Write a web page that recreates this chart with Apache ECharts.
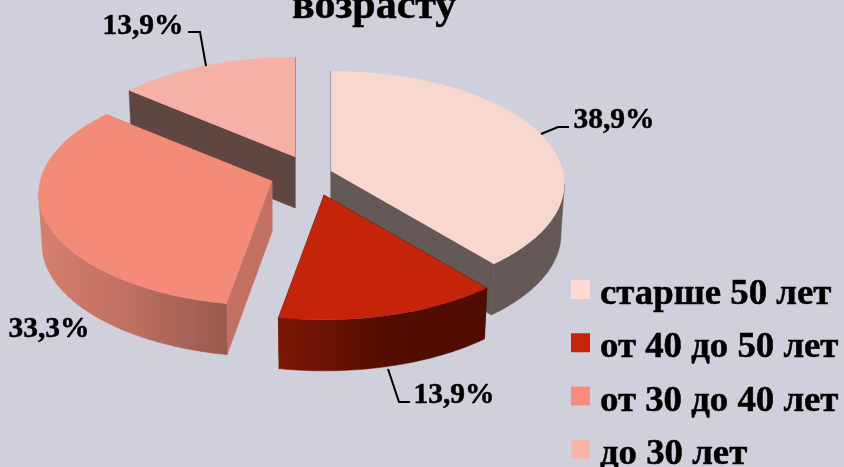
<!DOCTYPE html>
<html>
<head>
<meta charset="utf-8">
<style>
  html, body { margin: 0; padding: 0; background: #cfd0db; overflow: hidden; }
  #chart { width: 844px; height: 467px; }
</style>
<script src="https://cdn.jsdelivr.net/npm/echarts@6/dist/echarts.min.js"></script>
</head>
<body>
<div id="chart"></div>
<script>
const categories = ["старше 50 лет", "от 40 до 50 лет", "от 30 до 40 лет", "до 30 лет"];
const shares = [38.9, 13.9, 33.3, 13.9];

const FONT = '"Liberation Serif", "Times New Roman", serif';
const RX = 232, RY = 111, PERSP = 0.111, DEPTH = 51, BOTTOM_X = 0.985;

// look of each slice, in the same order as categories
const slices = [
  { apex: [331, 171], top: "#f8d7cf", key: "#fcd9d1", wall: "#655957", side: ["#655957", "#655957"], z: 2,
    label: [614, 120], leader: [[541, 134], [558, 127], [569, 127]] },
  { apex: [324, 195], top: "#c3240a", key: "#c4250b", wall: "#4f0c00", side: ["#7c1706", "#540d00", "#4f0c00"], z: 4,
    label: [454, 395], leader: [[388, 369], [399, 402], [410, 402]] },
  { apex: [272, 181], top: "#f48b78", key: "#f98d7d", wall: "#c27062", side: ["#d57f6f", "#bf6f60", "#965a4e"], z: 3,
    label: [49, 329], leader: null },
  { apex: [295, 157], top: "#f6b0a5", key: "#fbb3a7", wall: "#604640", side: ["#604640", "#604640"], z: 1,
    label: [143, 26], leader: [[188, 32], [200, 32], [206, 66]] },
];

function rim(deg) {
  const t = (deg * Math.PI) / 180;
  const s = 1 / (1 + PERSP * Math.cos(t));
  return [RX * Math.sin(t) * s, -RY * Math.cos(t) * s];
}

function topPoint(apex, deg) {
  const p = rim(deg);
  return [apex[0] + p[0], apex[1] + p[1]];
}

function bottomPoint(apex, deg) {
  const p = rim(deg);
  return [apex[0] + p[0] * BOTTOM_X, apex[1] + p[1] + DEPTH];
}

function arc(apex, from, to, pointFn) {
  const pts = [];
  for (let d = from; d < to; d += 1) pts.push(pointFn(apex, d));
  pts.push(pointFn(apex, to));
  return pts;
}

function wall(apex, deg, color) {
  const a = topPoint(apex, deg);
  const b = bottomPoint(apex, deg);
  return {
    type: "polygon",
    shape: { points: [apex, a, b, [apex[0], apex[1] + DEPTH]] },
    style: { fill: color, stroke: color, lineWidth: 0.5 },
  };
}

function renderSlice(index, from, to) {
  const sl = slices[index];
  const children = [wall(sl.apex, from, sl.wall), wall(sl.apex, to, sl.wall)];

  // outer side, only the part that faces the viewer (between the widest points of the rim)
  const sideFrom = Math.max(from, 96.4);
  const sideTo = Math.min(to, 263.6);
  if (sideFrom < sideTo) {
    const upper = arc(sl.apex, sideFrom, sideTo, topPoint);
    const lower = arc(sl.apex, sideFrom, sideTo, bottomPoint).reverse();
    const xs = upper.map(p => p[0]);
    const x0 = Math.min(...xs), x1 = Math.max(...xs);
    // side colours run from the left end of the wall to the right end
    const fill = {
      type: "linear", x: x0, y: 0, x2: x1, y2: 0, global: true,
      colorStops: sl.side.map((color, i) => ({ offset: i / (sl.side.length - 1), color })),
    };
    children.push({
      type: "polygon",
      shape: { points: upper.concat(lower) },
      style: { fill, stroke: fill, lineWidth: 0.5 },
    });
  }

  children.push({
    type: "polygon",
    shape: { points: [sl.apex].concat(arc(sl.apex, from, to, topPoint)) },
    style: { fill: sl.top },
  });

  if (sl.leader) {
    children.push({
      type: "polyline",
      shape: { points: sl.leader },
      style: { fill: null, stroke: "#000", lineWidth: 2 },
    });
  }

  children.push({
    type: "text",
    style: {
      x: sl.label[0], y: sl.label[1],
      text: shares[index].toFixed(1).replace(".", ",") + "%",
      font: 'bold 29.5px ' + FONT,
      fill: "#000", stroke: "#000", lineWidth: 0.5, align: "center", verticalAlign: "middle",
    },
  });

  return { type: "group", children };
}

const total = shares.reduce((a, b) => a + b, 0);
let running = 0;
const series = categories.map((name, i) => {
  const from = (running / total) * 360;
  running += shares[i];
  const to = (running / total) * 360;
  return {
    type: "custom",
    name,
    coordinateSystem: "none",
    z: slices[i].z,
    itemStyle: { color: slices[i].key },
    data: [shares[i]],
    renderItem: () => renderSlice(i, from, to),
  };
});

const chart = echarts.init(document.getElementById("chart"), null, { renderer: "canvas" });
chart.setOption({
  backgroundColor: "#cfd0db",
  animation: false,
  title: {
    text: "возрасту",
    left: 292,
    top: -14,
    padding: 0,
    textStyle: { fontFamily: FONT, fontSize: 42, fontWeight: "bold", color: "#000", textBorderColor: "#000", textBorderWidth: 0.5 },
  },
  legend: {
    orient: "vertical",
    left: 571,
    top: 266,
    height: 230,
    padding: 0,
    icon: "rect",
    itemWidth: 19,
    itemHeight: 19,
    itemGap: 6,
    align: "left",
    data: categories,
    formatter: name => "{a|" + name + "}",
    textStyle: {
      rich: {
        a: {
          fontFamily: FONT, fontSize: 36.8, fontWeight: "bold", color: "#000",
          textBorderColor: "#000", textBorderWidth: 0.5, padding: [10, 0, 0, 5], lineHeight: 32,
        },
      },
    },
  },
  series,
});
</script>
</body>
</html>
